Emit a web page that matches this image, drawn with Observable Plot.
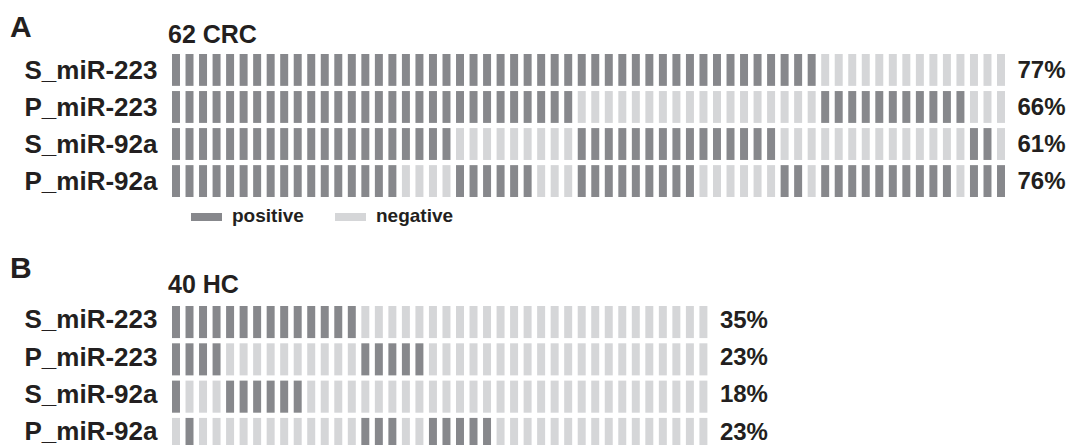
<!DOCTYPE html>
<html><head><meta charset="utf-8">
<script src="https://cdn.jsdelivr.net/npm/d3@7"></script>
<script src="https://cdn.jsdelivr.net/npm/@observablehq/plot@0.6"></script>
<style>
body{margin:0;overflow:hidden;background:#fff;font-family:"Liberation Sans",Arial,sans-serif;color:#231f20}
#wrap{position:relative;width:1070px;height:445px;overflow:hidden}
.abs{position:absolute;font-weight:bold;white-space:nowrap;line-height:1}
.sw{position:absolute;width:31px;height:8px}
#wrap svg{position:absolute;left:0}
</style></head><body><div id="wrap">
<div class="abs" style="left:10px;top:11.6px;font-size:30px">A</div>
<div class="abs" style="left:168px;top:21.7px;font-size:25px">62 CRC</div>
<div class="sw" style="left:191px;top:213px;background:#87888c"></div>
<div class="abs" style="left:232px;top:205.6px;font-size:19px">positive</div>
<div class="sw" style="left:335px;top:213px;background:#d5d6d8"></div>
<div class="abs" style="left:376px;top:205.6px;font-size:19px">negative</div>
<div class="abs" style="left:10px;top:252.6px;font-size:30px">B</div>
<div class="abs" style="left:168px;top:271.7px;font-size:25px">40 HC</div>
</div>
<script>
const rowNames = ["S_miR-223", "P_miR-223", "S_miR-92a", "P_miR-92a"];
const statusNames = ["positive", "negative"];
const statusColors = ["#87888c", "#d5d6d8"];

// 62 CRC patients: 1 = positive, 0 = negative
const crc_S_miR223 = [1,1,1,1,1,1,1,1,1,1,1,1,1,1,1,1,1,1,1,1,1,1,1,1,1,1,1,1,1,1,1,1,1,1,1,1,1,1,1,1,1,1,1,1,1,1,1,1,0,0,0,0,0,0,0,0,0,0,0,0,0,0];
const crc_P_miR223 = [1,1,1,1,1,1,1,1,1,1,1,1,1,1,1,1,1,1,1,1,1,1,1,1,1,1,1,1,1,1,0,0,0,0,0,0,0,0,0,0,0,0,0,0,0,0,0,0,1,1,1,1,1,1,1,1,1,1,1,0,0,0];
const crc_S_miR92a = [1,1,1,1,1,1,1,1,1,1,1,1,1,1,1,1,1,1,1,1,1,0,0,0,0,0,0,0,0,0,1,1,1,1,1,1,1,1,1,1,1,1,1,1,1,0,0,0,0,0,0,0,0,0,0,0,0,0,0,1,1,0];
const crc_P_miR92a = [1,1,1,1,1,1,1,1,1,1,1,1,1,1,1,1,1,0,0,0,0,1,1,1,1,1,1,0,0,0,1,1,1,1,1,1,1,1,1,0,0,0,0,0,0,1,1,0,1,1,1,1,1,1,1,1,1,1,0,1,1,1];
const crcPct = ["77%", "66%", "61%", "76%"];

// 40 HC subjects
const hc_S_miR223 = [1,1,1,1,1,1,1,1,1,1,1,1,1,1,0,0,0,0,0,0,0,0,0,0,0,0,0,0,0,0,0,0,0,0,0,0,0,0,0,0];
const hc_P_miR223 = [1,1,1,1,0,0,0,0,0,0,0,0,0,0,1,1,1,1,1,0,0,0,0,0,0,0,0,0,0,0,0,0,0,0,0,0,0,0,0,0];
const hc_S_miR92a = [1,0,0,0,1,1,1,1,1,1,0,0,0,0,0,0,0,0,0,0,0,0,0,0,0,0,0,0,0,0,0,0,0,0,0,0,0,0,0,0];
const hc_P_miR92a = [0,1,0,0,0,0,0,0,0,0,0,0,0,0,1,1,1,0,0,1,1,1,1,1,0,0,0,0,0,0,0,0,0,0,0,0,0,0,0,0];
const hcPct = ["35%", "23%", "18%", "23%"];

function table(series) {
  const out = [];
  series.forEach((arr, r) => arr.forEach((v, i) => out.push({row: rowNames[r], i, status: v ? "positive" : "negative"})));
  return out;
}

function panel(series, pct, opts) {
  const n = series[0].length;
  return Plot.plot({
    width: 1070, height: opts.height,
    marginLeft: 172, marginRight: opts.marginRight, marginTop: opts.marginTop, marginBottom: opts.marginBottom,
    style: {fontFamily: "'Liberation Sans', Arial, sans-serif", color: "#231f20", background: "transparent", overflow: "visible"},
    x: {type: "band", domain: d3.range(n), paddingInner: 0.41, paddingOuter: 0, round: false, axis: null},
    y: {type: "band", domain: rowNames, paddingInner: 0.14, paddingOuter: 0, round: false, axis: null},
    color: {domain: statusNames, range: statusColors},
    marks: [
      Plot.cell(table(series), {x: "i", y: "row", fill: "status", inset: 0}),
      Plot.axisY({tickSize: 0, tickPadding: 15, fontSize: 26, fontWeight: "bold", label: null, dy: opts.labelDy}),
      Plot.text(rowNames, {x: () => n - 1, y: d => d, text: (d, i) => pct[i], textAnchor: "start", dx: 16, dy: opts.labelDy, fontSize: 24, fontWeight: "bold"})
    ]
  });
}

const wrap = document.getElementById("wrap");
const a = panel([crc_S_miR223, crc_P_miR223, crc_S_miR92a, crc_P_miR92a], crcPct, {height: 205, marginRight: 65, marginTop: 54, marginBottom: 8, labelDy: 0});
a.style.top = "0px";
wrap.appendChild(a);
const b = panel([hc_S_miR223, hc_P_miR223, hc_S_miR92a, hc_P_miR92a], hcPct, {height: 200, marginRight: 362.6, marginTop: 56, marginBottom: 0, labelDy: -2.5});
b.style.top = "250px";
wrap.appendChild(b);
</script></body></html>
